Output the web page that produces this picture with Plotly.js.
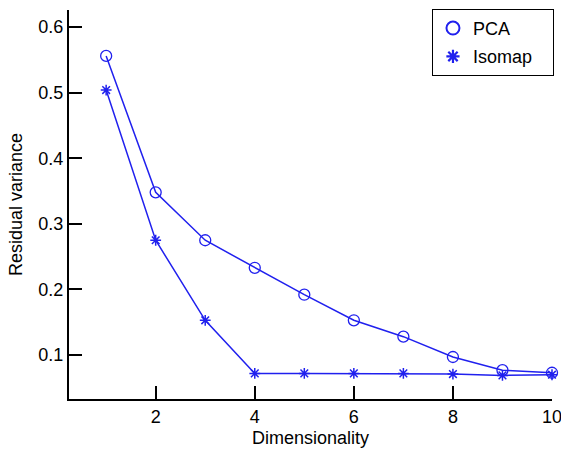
<!DOCTYPE html>
<html>
<head>
<meta charset="utf-8">
<script src="https://cdn.plot.ly/plotly-3.0.1.min.js"></script>
<style>html,body{margin:0;padding:0;background:#fff;}#chart{width:561px;height:452px;}</style>
</head>
<body>
<div id="chart"></div>
<script>
const dims = [1, 2, 3, 4, 5, 6, 7, 8, 9, 10];
const pcaVar = [0.556, 0.348, 0.275, 0.233, 0.192, 0.153, 0.128, 0.097, 0.077, 0.073];
const isomapVar = [0.504, 0.275, 0.153, 0.072, 0.072, 0.072, 0.072, 0.071, 0.069, 0.070];
const seriesNames = ['PCA', 'Isomap'];
const xTicks = [2, 4, 6, 8, 10];
const yTicks = [0.1, 0.2, 0.3, 0.4, 0.5, 0.6];

const blue = '#2020ee';
const pad = '\u00a0\u00a0\u00a0';
const pcaMarker = {symbol: 'circle-open', size: 11, color: blue, line: {width: 1.3, color: blue}};
const isoMarker = {symbol: 'asterisk-open', size: 9, color: blue, line: {width: 1.5, color: blue}};
const traces = [
  {x: dims, y: pcaVar, name: seriesNames[0], mode: 'lines+markers', cliponaxis: false, showlegend: false,
   line: {color: blue, width: 1.5}, marker: pcaMarker},
  {x: dims, y: isomapVar, name: seriesNames[1], mode: 'lines+markers', cliponaxis: false, showlegend: false,
   line: {color: blue, width: 1.5}, marker: isoMarker},
  {x: [null], y: [null], name: seriesNames[0] + pad, legendgroup: 'a', mode: 'markers', showlegend: true,
   marker: {symbol: 'circle-open', size: 13, color: blue, line: {width: 2, color: blue}}},
  {x: [null], y: [null], name: seriesNames[1] + pad, legendgroup: 'b', mode: 'markers', showlegend: true,
   marker: {symbol: 'asterisk-open', size: 11, color: blue, line: {width: 2.2, color: blue}}}
];
const layout = {
  width: 561, height: 452,
  margin: {l: 69, r: 8, t: 10, b: 53},
  paper_bgcolor: '#fff', plot_bgcolor: '#fff',
  font: {family: 'Liberation Sans, Arial, sans-serif', size: 18, color: '#000'},
  showlegend: true,
  legend: {x: 1.002, xanchor: 'right', y: 1.003, yanchor: 'top',
    bordercolor: '#000', borderwidth: 1, bgcolor: '#fff',
    font: {size: 18}, itemwidth: 30, tracegroupgap: 2},
  xaxis: {range: [0.25, 10], tickvals: xTicks, ticktext: xTicks.map(String),
    ticks: 'inside', ticklen: 13, tickwidth: 2, tickcolor: '#000', ticklabeloverflow: 'allow',
    showline: true, linewidth: 2, linecolor: '#000', showgrid: false, zeroline: false,
    title: {text: 'Dimensionality', standoff: 6, font: {size: 18}}},
  yaxis: {range: [0.033, 0.626], tickvals: yTicks, ticktext: yTicks.map(v => v.toFixed(1)),
    ticks: 'inside', ticklen: 13, tickwidth: 2, tickcolor: '#000',
    showline: true, linewidth: 2, linecolor: '#000', showgrid: false, zeroline: false,
    title: {text: 'Residual variance', standoff: 11, font: {size: 18}}}
};
Plotly.newPlot('chart', traces, layout, {displayModeBar: false, staticPlot: true});
</script>
</body>
</html>
